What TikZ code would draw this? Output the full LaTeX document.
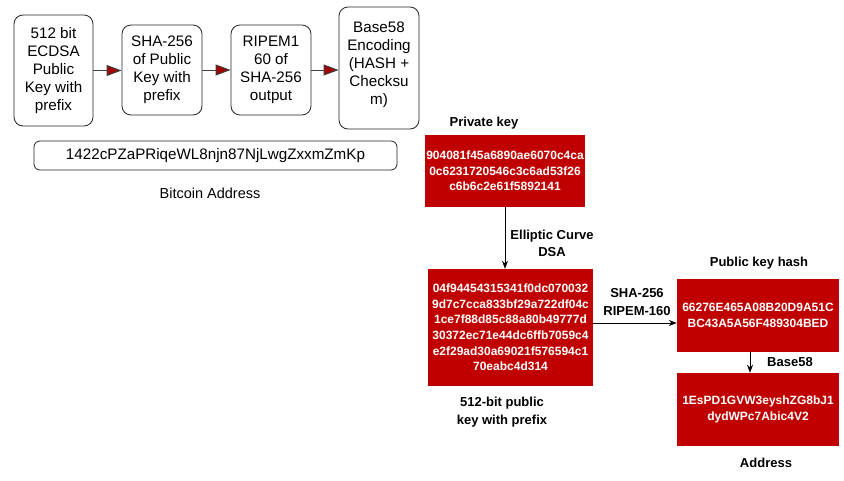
\documentclass[tikz,border=0pt]{standalone}
\usepackage{fontspec}
\setmainfont{Liberation Sans}
\usetikzlibrary{arrows.meta}
\definecolor{boxred}{RGB}{192,0,0}
\begin{document}
\begin{tikzpicture}[x=1pt,y=-1pt,
 flow/.style={draw=black!85, rounded corners=9pt, line width=0.8pt, inner sep=0pt, align=center, font=\fontsize{15.2}{18}\selectfont},
 redbox/.style={fill=boxred, draw=none, inner sep=0pt, align=center, text=white, font=\bfseries\fontsize{12}{15.6}\selectfont},
 lbl/.style={font=\bfseries\fontsize{13}{17.5}\selectfont, align=center},
 redarrow/.style={draw=black!75, line width=1pt, -{Triangle[length=15pt,width=11pt,fill=boxred!85!black]}},
 blkarrow/.style={draw=black, line width=1pt, -{Stealth[length=8pt,width=6pt]}}
]
\useasboundingbox[fill=white] (0,0) rectangle (844,480);

% top flow
\node[flow, minimum width=79pt, minimum height=111pt] (b1) at (53.5,70.5) {512 bit\\ECDSA\\Public\\Key with\\prefix};
\node[flow, minimum width=80pt, minimum height=90pt] (b2) at (162,70) {SHA-256\\of Public\\Key with\\prefix};
\node[flow, minimum width=80pt, minimum height=90pt] (b3) at (271,70) {RIPEM1\\60 of\\SHA-256\\output};
\node[flow, minimum width=80pt, minimum height=122pt] (b4) at (379,68) {Base58\\Encoding\\(HASH +\\Checksu\\m)\\[-8pt]};
\draw[redarrow] (b1.east) -- (b1.east -| b2.west);
\draw[redarrow] (b2.east) -- (b2.east -| b3.west);
\draw[redarrow] (b3.east) -- (b3.east -| b4.west);

\node[flow, rounded corners=6pt, minimum width=363pt, minimum height=29pt] (addr) at (215.5,155.5) {1422cPZaPRiqeWL8njn87NjLwgZxxmZmKp};
\node[font=\fontsize{14.5}{18}\selectfont] (btc) at (210,193) {Bitcoin Address};

% right part
\node[lbl] (pklbl) at (484,123) {Private key};
\node[redbox, minimum width=160pt, minimum height=72pt] (pk) at (505,171) {904081f45a6890ae6070c4ca\\0c6231720546c3c6ad53f26\\c6b6c2e61f5892141};

\node[redbox, minimum width=165pt, minimum height=117pt] (pub) at (510.5,327.5) {04f94454315341f0dc070032\\9d7c7cca833bf29a722df04c\\1ce7f88d85c88a80b49777d\\30372ec71e44dc6ffb7059c4\\e2f29ad30a69021f576594c1\\70eabc4d314};
\node[lbl] (publbl) at (502,412) {512-bit public\\key with prefix};

\draw[blkarrow] (pk.south) -- (pk.south |- pub.north);
\node[lbl] (ecdsa) at (552,243.5) {Elliptic Curve\\DSA};

\node[lbl] (hashlbl) at (759,263) {Public key hash};
\node[redbox, minimum width=162pt, minimum height=73pt, font=\bfseries\fontsize{12}{15.5}\selectfont] (hash) at (758,315.5) {66276E465A08B20D9A51C\\BC43A5A56F489304BED};

\draw[blkarrow] ([yshift=4.5pt]pub.east) -- ([yshift=-7.5pt]hash.west);
\node[lbl] (sha) at (637,302) {SHA-256\\RIPEM-160};

\node[redbox, minimum width=162pt, minimum height=73pt, font=\bfseries\fontsize{12}{16}\selectfont] (ad) at (758,409.5) {1EsPD1GVW3eyshZG8bJ1\\dydWPc7Abic4V2};
\draw[blkarrow] ([xshift=-8pt]hash.south) -- ([xshift=-8pt]hash.south |- ad.north);
\node[lbl] (b58) at (790,362) {Base58};
\node[lbl] (adlbl) at (766,463) {Address};
\end{tikzpicture}
\end{document}
